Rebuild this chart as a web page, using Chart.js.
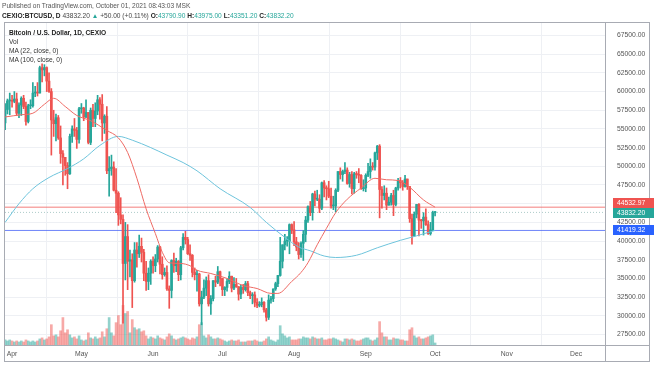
<!DOCTYPE html>
<html><head><meta charset="utf-8">
<script src="https://cdn.jsdelivr.net/npm/chart.js@4.4.0/dist/chart.umd.min.js"></script>
<style>
body{margin:0;background:#fff;width:654px;height:366px;overflow:hidden;position:relative;font-family:"Liberation Sans",Arial,sans-serif;}
#c{position:absolute;left:0;top:0;}
.h{position:absolute;left:2px;font-size:6.6px;white-space:nowrap;line-height:8px}
.leg{position:absolute;left:9px;font-size:6.6px;color:#333;white-space:nowrap;line-height:8px}
.t{color:#26a69a}
b{font-weight:bold;color:#222}
</style></head><body>
<canvas id="c" width="654" height="366"></canvas>
<div class="h" style="top:2px;color:#555">Published on TradingView.com, October 01, 2021 08:43:03 MSK</div>
<div class="h" style="top:12px;color:#444"><b>CEXIO:BTCUSD, D</b> 43832.20 <span class="t">▲</span> +50.00 (+0.11%) <b>O:</b><span class="t">43790.90</span> <b>H:</b><span class="t">43975.00</span> <b>L:</b><span class="t">43351.20</span> <b>C:</b><span class="t">43832.20</span></div>
<div class="leg" style="top:29px;font-weight:bold;color:#222">Bitcoin / U.S. Dollar, 1D, CEXIO</div>
<div class="leg" style="top:38px">Vol</div>
<div class="leg" style="top:47px">MA (22, close, 0)</div>
<div class="leg" style="top:56px">MA (100, close, 0)</div>
<script>
const dates = [
"2021-03-29","2021-03-30","2021-03-31",
"2021-04-01","2021-04-02","2021-04-03","2021-04-04","2021-04-05","2021-04-06","2021-04-07","2021-04-08","2021-04-09","2021-04-10",
"2021-04-11","2021-04-12","2021-04-13","2021-04-14","2021-04-15","2021-04-16","2021-04-17","2021-04-18","2021-04-19","2021-04-20",
"2021-04-21","2021-04-22","2021-04-23","2021-04-24","2021-04-25","2021-04-26","2021-04-27","2021-04-28","2021-04-29","2021-04-30",
"2021-05-01","2021-05-02","2021-05-03","2021-05-04","2021-05-05","2021-05-06","2021-05-07","2021-05-08","2021-05-09","2021-05-10",
"2021-05-11","2021-05-12","2021-05-13","2021-05-14","2021-05-15","2021-05-16","2021-05-17","2021-05-18","2021-05-19","2021-05-20",
"2021-05-21","2021-05-22","2021-05-23","2021-05-24","2021-05-25","2021-05-26","2021-05-27","2021-05-28","2021-05-29","2021-05-30","2021-05-31",
"2021-06-01","2021-06-02","2021-06-03","2021-06-04","2021-06-05","2021-06-06","2021-06-07","2021-06-08","2021-06-09","2021-06-10",
"2021-06-11","2021-06-12","2021-06-13","2021-06-14","2021-06-15","2021-06-16","2021-06-17","2021-06-18","2021-06-19","2021-06-20",
"2021-06-21","2021-06-22","2021-06-23","2021-06-24","2021-06-25","2021-06-26","2021-06-27","2021-06-28","2021-06-29","2021-06-30",
"2021-07-01","2021-07-02","2021-07-03","2021-07-04","2021-07-05","2021-07-06","2021-07-07","2021-07-08","2021-07-09","2021-07-10",
"2021-07-11","2021-07-12","2021-07-13","2021-07-14","2021-07-15","2021-07-16","2021-07-17","2021-07-18","2021-07-19","2021-07-20",
"2021-07-21","2021-07-22","2021-07-23","2021-07-24","2021-07-25","2021-07-26","2021-07-27","2021-07-28","2021-07-29","2021-07-30","2021-07-31",
"2021-08-01","2021-08-02","2021-08-03","2021-08-04","2021-08-05","2021-08-06","2021-08-07","2021-08-08","2021-08-09","2021-08-10",
"2021-08-11","2021-08-12","2021-08-13","2021-08-14","2021-08-15","2021-08-16","2021-08-17","2021-08-18","2021-08-19","2021-08-20",
"2021-08-21","2021-08-22","2021-08-23","2021-08-24","2021-08-25","2021-08-26","2021-08-27","2021-08-28","2021-08-29","2021-08-30","2021-08-31",
"2021-09-01","2021-09-02","2021-09-03","2021-09-04","2021-09-05","2021-09-06","2021-09-07","2021-09-08","2021-09-09","2021-09-10",
"2021-09-11","2021-09-12","2021-09-13","2021-09-14","2021-09-15","2021-09-16","2021-09-17","2021-09-18","2021-09-19","2021-09-20",
"2021-09-21","2021-09-22","2021-09-23","2021-09-24","2021-09-25","2021-09-26","2021-09-27","2021-09-28","2021-09-29","2021-09-30",
"2021-10-01"];

const opens = [55800,57600,58750,
58800,58700,59000,57100,58200,59100,58000,56000,58100,58100,
59800,59900,59800,63200,62900,63200,61400,60000,56200,55700,
56500,53800,51700,51200,50100,49000,54000,55000,54800,53600,
57700,57800,56600,57200,53200,57500,56400,57400,58900,58300,
55800,56700,49400,49700,49900,46800,46400,43500,42900,37000,
40600,37300,37500,34700,38800,38300,39300,38500,35700,34600,35700,
37300,36700,37600,39200,36900,35500,35800,33600,33400,37400,
36700,37300,35500,39100,40500,40200,38300,38100,35800,35500,
35600,31600,32500,33700,34700,31600,32300,34700,34500,35900,
35000,33500,33800,34600,35300,33700,34200,33900,32900,33800,
33500,34300,33100,32700,32800,31800,31400,31500,31800,30800,
29800,32100,32300,33600,34300,35400,37300,39500,40000,40000,42200,
41500,39900,39200,38200,39700,40900,42800,44600,43800,46300,
45600,45600,44400,47800,47100,47000,46000,44700,44700,46800,
49300,48900,49300,49500,47700,48900,47000,49000,48900,48800,47000,
47100,48800,49300,50000,49900,51800,52700,46900,46100,46400,
44800,45200,46100,44900,47100,48100,47800,47300,48300,47300,
43000,40700,43600,44900,42800,42700,43200,42200,41000,41500,
43790.9];
const highs = [58400,59000,59800,
59500,60000,59800,58500,59300,59500,58600,58300,58900,61200,
60700,61200,63400,63700,63600,63300,62500,60400,57500,57000,
56800,55400,52100,51200,50500,54300,55400,56400,55200,57900,
58400,57900,58900,57200,57800,58300,58500,59500,59200,59600,
56900,58000,51300,51500,50600,49700,46600,45800,43500,42500,
42200,38800,38300,39800,39800,40800,40400,38900,37300,36400,37500,
37900,38200,39400,39300,37900,36400,36700,34000,37500,38400,
37700,37400,39300,41000,41300,40500,39500,38200,36400,36100,
35700,33300,34800,35200,35500,32700,34700,35300,36600,36000,
35000,33900,34900,35900,35300,35100,35000,33900,34100,34200,
34600,34600,33300,33100,33200,32300,31900,32400,31900,31000,
32800,32600,33600,34500,35400,40500,39500,40900,40600,42300,42300,
42600,40500,39800,39900,41400,43300,44700,45300,46400,46700,
46800,46200,47900,48100,47400,48000,47100,46000,47000,49300,
49800,49500,50500,49800,49200,49300,49200,49300,49700,48900,48200,
49000,50400,51000,50500,51900,52800,52900,47300,47400,47100,
45900,46400,46800,47200,48400,48500,48100,48800,48300,47300,
43600,43900,44900,45000,42900,43800,44300,42700,42500,44000,
43975];
const lows = [54900,57000,56900,
57900,58500,56800,56500,56800,57700,55500,55800,57700,57900,
59300,59400,59800,61300,62100,60000,59900,51500,54000,53400,
53600,50400,47500,48800,47000,48900,53200,54000,52400,53100,
57100,56100,56500,53000,52900,55300,55300,56900,56300,53400,
54400,49000,46000,48800,46700,43800,42100,42300,29000,34800,
33500,35200,31100,34500,36500,37800,37200,34700,33400,33500,34200,
35700,35900,37200,35600,34900,35300,33400,31000,32400,35800,
35900,34700,34800,38800,39600,38200,37400,35200,34800,33300,
31300,28800,32300,32700,31300,30200,32000,33900,34300,34000,
32700,32700,33300,34300,33200,33500,33800,32100,32300,33000,
33300,32700,32300,31600,31200,31100,31200,31200,30500,29300,
29500,31700,31900,33400,33900,35300,36400,38800,39300,38300,41000,
39400,38700,37600,37800,37400,39900,42500,43400,42800,44700,
45400,43800,44200,45900,45500,45800,44400,44200,43900,46600,
48300,48000,49000,47600,47200,46300,46400,48400,47800,46900,46700,
46600,48600,48400,49500,49500,50900,43100,44400,45500,44200,
44800,44800,43400,44700,46800,47100,46800,47200,46900,42500,
39600,40600,43100,40700,41700,40800,42100,40900,40800,41400,
43351.2];
const closes = [57600,58750,58800,
58700,59000,57100,58200,59100,58000,56000,58100,58100,59800,
59900,59800,63200,62900,63200,61400,60000,56200,55700,56500,
53800,51700,51200,50100,49000,54000,55000,54800,53600,57700,
57800,56600,57200,53200,57500,56400,57400,58900,58300,55800,
56700,49400,49700,49900,46800,46400,43500,42900,37000,40600,
37300,37500,34700,38800,38300,39300,38500,35700,34600,35700,37300,
36700,37600,39200,36900,35500,35800,33600,33400,37400,36700,
37300,35500,39100,40500,40200,38300,38100,35800,35500,35600,
31600,32500,33700,34700,31600,32300,34700,34500,35900,35000,
33500,33800,34600,35300,33700,34200,33900,32900,33800,33500,
34300,33100,32700,32800,31800,31400,31500,31800,30800,29800,
32100,32300,33600,34300,35400,37300,39500,40000,40000,42200,41500,
39900,39200,38200,39700,40900,42800,44600,43800,46300,45600,
45600,44400,47800,47100,47000,46000,44700,44700,46800,49300,
48900,49300,49500,47700,48900,47000,49000,48900,48800,47000,47100,
48800,49300,50000,49900,51800,52700,46900,46100,46400,44800,
45200,46100,44900,47100,48100,47800,47300,48300,47300,43000,
40700,43600,44900,42800,42700,43200,42200,41000,41500,43790.9,
43832.2];
const volumes = [500,400,500,400,300,400,300,
400,300,500,400,300,400,300,
400,600,700,500,600,800,2000,
900,1000,800,1400,2700,1200,1500,
1000,700,800,600,900,500,400,
500,1200,700,600,800,600,700,
1300,800,1600,2700,1200,900,2200,
2900,2000,3900,3100,3300,1200,2500,
1700,1500,1600,1300,1400,900,600,
800,700,600,900,700,600,500,
800,1100,900,600,500,600,700,
800,700,600,500,700,600,800,
2000,2200,900,700,1000,800,600,
600,700,600,500,400,300,400,
500,400,400,500,300,300,300,
400,400,400,500,400,300,300,
400,600,800,500,400,300,500,
1900,1100,900,700,800,500,500,
500,600,600,800,700,700,600,
800,700,600,600,700,500,500,
600,600,700,600,500,400,300,
600,600,500,600,500,400,400,
500,600,700,700,500,400,500,
700,2300,1200,800,800,500,500,
700,600,600,500,500,400,400,
1500,1700,900,700,800,600,600,
700,800,900,1000,200];

const ma22Dates = ["2021-03-29","2021-04-05","2021-04-10","2021-04-15","2021-04-19","2021-04-24","2021-04-29","2021-05-05","2021-05-12","2021-05-17","2021-05-21","2021-05-25","2021-05-29","2021-06-02","2021-06-05","2021-06-08","2021-06-13","2021-06-17","2021-06-20","2021-06-26","2021-07-03","2021-07-10","2021-07-16","2021-07-22","2021-07-25","2021-07-31","2021-08-04","2021-08-07","2021-08-11","2021-08-15","2021-08-19","2021-08-24","2021-08-30","2021-09-05","2021-09-10","2021-09-15","2021-09-20","2021-09-26","2021-10-01"];
const ma22Values = [56600,56900,57100,58300,59100,58000,56800,56100,54800,53800,51850,48400,44300,41000,38500,37100,37000,36700,36100,35660,35000,34050,33650,33000,33000,34600,35800,37100,39500,41700,43800,45600,47100,48400,48200,48100,47200,45500,44532.97];
const ma100Dates = ["2021-03-29","2021-04-04","2021-04-10","2021-04-17","2021-04-25","2021-05-02","2021-05-09","2021-05-17","2021-05-23","2021-05-31","2021-06-07","2021-06-14","2021-06-20","2021-06-30","2021-07-13","2021-07-20","2021-07-28","2021-08-03","2021-08-08","2021-08-14","2021-08-19","2021-08-28","2021-09-06","2021-09-16","2021-09-23","2021-10-01"];
const ma100Values = [42500,45000,47000,48500,49700,51000,52800,54000,53500,52500,51500,50500,49400,47000,44500,42500,40500,39200,38700,38000,37800,38100,39100,40100,40700,41419.32];

const lastClose = 43832.20, lastMA22 = 44532.97, lastMA100 = 41419.32;
const yTicks = [27500,30000,32500,35000,37500,40000,42500,45000,47500,50000,52500,55000,57500,60000,62500,65000,67500];
const monthTicks = ["2021-04-01","2021-05-01","2021-06-01","2021-07-01","2021-08-01","2021-09-01","2021-10-01","2021-11-01","2021-12-01"];
const monthLabels = ["Apr","May","Jun","Jul","Aug","Sep","Oct","Nov","Dec"];

const BASE = Date.UTC(2021,3,1);
const dayIdx = s => (Date.parse(s + "T00:00:00Z") - BASE) / 86400000;
const UP = '#26a69a', DN = '#ef5350';
const isUp = i => closes[i] >= opens[i];

const wicks = dates.map((d,i)=>({x:dayIdx(d), y:[lows[i], highs[i]]}));
const bodies = dates.map((d,i)=>({x:dayIdx(d), y:[opens[i], closes[i]]}));
const vols = dates.map((d,i)=>({x:dayIdx(d), y:volumes[i]}));
const candleCol = dates.map((d,i)=> isUp(i) ? UP : DN);
const volCol = dates.map((d,i)=> isUp(i) ? 'rgba(38,166,154,0.5)' : 'rgba(239,83,80,0.5)');
const xMin = dayIdx("2021-03-29") - 0.05, xMax = 256.5;

const font = {family:'"Liberation Sans", Arial, sans-serif', size:6.8};

const framePlugin = {
  id:'frame',
  afterDraw(chart){
    const ctx = chart.ctx, a = chart.chartArea, y = chart.scales.y;
    ctx.save();
    ctx.strokeStyle = '#a8abb3'; ctx.lineWidth = 1;
    ctx.strokeRect(4.5, 22.5, 645, 339);
    ctx.beginPath();
    ctx.moveTo(Math.round(a.right)+0.5, 22); ctx.lineTo(Math.round(a.right)+0.5, 362);
    ctx.moveTo(4, Math.round(a.bottom)+0.5); ctx.lineTo(650, Math.round(a.bottom)+0.5);
    ctx.stroke();
    const boxes = [
      {v:lastMA22, col:DN, dy:-4},
      {v:lastClose, col:UP, dy:1},
      {v:lastMA100, col:'#2962ff', dy:0}
    ];
    ctx.font = '6.8px "Liberation Sans", Arial, sans-serif';
    ctx.textBaseline = 'middle';
    boxes.forEach(b=>{
      const py = Math.round(y.getPixelForValue(b.v)) + b.dy;
      ctx.fillStyle = b.col;
      ctx.fillRect(Math.round(a.right)+8, py-5, 41, 10);
      ctx.fillStyle = '#fff';
      ctx.fillText(b.v.toFixed(2), Math.round(a.right)+12, py+0.5);
    });
    ctx.restore();
  }
};

new Chart(document.getElementById('c'), {
  data:{
    datasets:[
      {type:'line', label:'MA22', data: ma22Dates.map((d,i)=>({x:dayIdx(d), y:ma22Values[i]})), borderColor:'#ee6a64', borderWidth:1, pointRadius:0, cubicInterpolationMode:'monotone', order:0, yAxisID:'y'},
      {type:'line', label:'MA100', data: ma100Dates.map((d,i)=>({x:dayIdx(d), y:ma100Values[i]})), borderColor:'#6ec4dc', borderWidth:1, pointRadius:0, cubicInterpolationMode:'monotone', order:0, yAxisID:'y'},
      {type:'bar', label:'body', data: bodies, backgroundColor:candleCol, barThickness:2, minBarLength:1, grouped:false, order:1, yAxisID:'y'},
      {type:'bar', label:'wick', data: wicks, backgroundColor:candleCol, barThickness:1, grouped:false, order:2, yAxisID:'y'},
      {type:'line', label:'ma22line', data:[{x:xMin,y:lastMA22},{x:xMax,y:lastMA22}], borderColor:'rgba(239,83,80,0.75)', borderWidth:1, pointRadius:0, order:5, yAxisID:'y'},
      {type:'line', label:'ma100line', data:[{x:xMin,y:lastMA100},{x:xMax,y:lastMA100}], borderColor:'rgba(60,90,245,0.75)', borderWidth:1, pointRadius:0, order:5, yAxisID:'y'},
      {type:'line', label:'lastline', data:[{x:xMin,y:lastClose},{x:xMax,y:lastClose}], borderColor:'rgba(120,170,165,0.6)', borderWidth:1, borderDash:[1,2], pointRadius:0, order:5, yAxisID:'y'},
      {type:'bar', label:'vol', data: vols, backgroundColor:volCol, barThickness:2, grouped:false, order:10, yAxisID:'yv'}
    ]
  },
  options:{
    responsive:false, animation:false, devicePixelRatio:1, events:[],
    layout:{padding:{left:5, top:22, right:0, bottom:0}},
    plugins:{legend:{display:false}, tooltip:{enabled:false}},
    scales:{
      x:{type:'linear', min:xMin, max:xMax, offset:false,
        grid:{color:'#eef0f4', drawTicks:false},
        border:{display:false},
        afterBuildTicks(s){ s.ticks = monthTicks.map(d=>({value:dayIdx(d)})); },
        afterFit(s){ s.height = 21; },
        ticks:{font, color:'#555', padding:5, maxRotation:0, autoSkip:false,
          callback:(v)=>{ const k = monthTicks.findIndex(d=>dayIdx(d)===v); return k>=0 ? monthLabels[k] : ''; }}
      },
      y:{type:'linear', position:'right', min:26095, max:69306,
        grid:{color:'#eef0f4', drawTicks:false},
        border:{display:false},
        afterBuildTicks(s){ s.ticks = yTicks.map(v=>({value:v})); },
        afterFit(s){ s.width = 49; },
        ticks:{font, color:'#555', padding:12, callback:v=>Number(v).toFixed(2)}
      },
      yv:{type:'linear', display:false, min:0, max:31800}
    }
  },
  plugins:[framePlugin]
});
</script>
</body></html>
